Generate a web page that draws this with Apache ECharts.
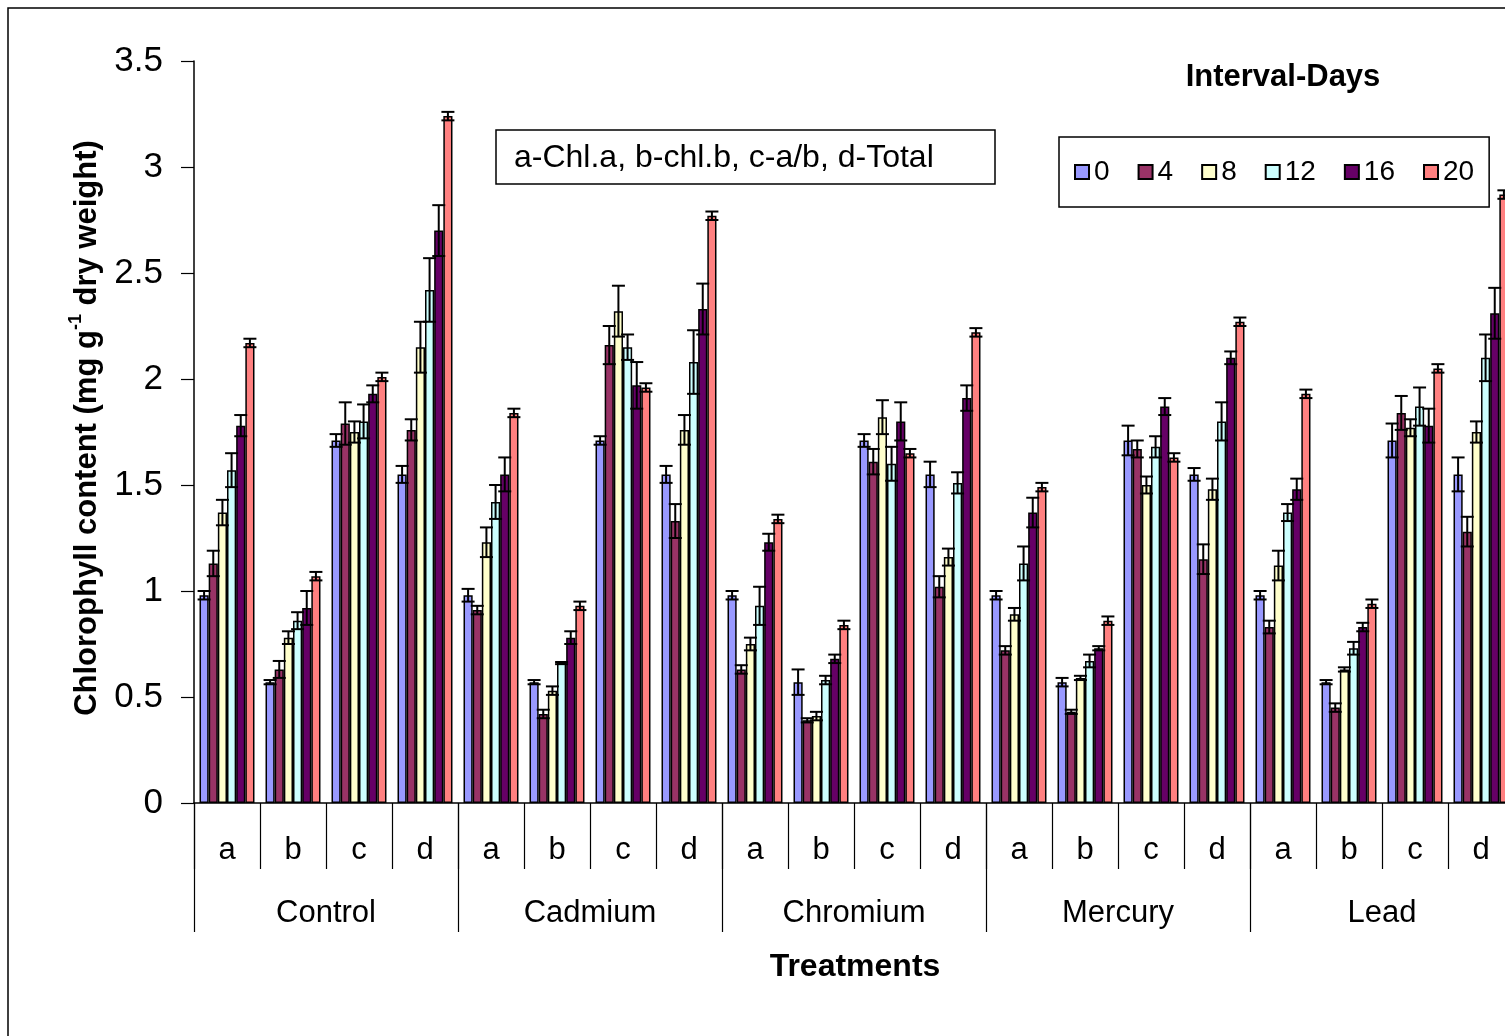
<!DOCTYPE html>
<html>
<head>
<meta charset="utf-8">
<script src="https://cdn.jsdelivr.net/npm/echarts@6/dist/echarts.min.js"></script>
<style>html,body{margin:0;padding:0;background:#fff;}#c{width:1505px;height:1036px;}</style>
</head>
<body>
<div id="c"></div>
<script>
const subCategories = ['a','b','c','d','a','b','c','d','a','b','c','d','a','b','c','d','a','b','c','d'];
const treatments = ['Control','Cadmium','Chromium','Mercury','Lead'];
const seriesNames = ['0','4','8','12','16','20'];
const yTicks = {min: 0, max: 3.5, interval: 0.5};

const day0  = [0.98,0.57,1.71,1.55, 0.98,0.57,1.71,1.55, 0.98,0.57,1.71,1.55, 0.98,0.57,1.71,1.55, 0.98,0.57,1.71,1.55];
const day4  = [1.13,0.63,1.79,1.76, 0.91,0.42,2.16,1.33, 0.63,0.39,1.61,1.02, 0.72,0.43,1.67,1.15, 0.83,0.45,1.84,1.28];
const day8  = [1.37,0.78,1.75,2.15, 1.23,0.53,2.32,1.76, 0.75,0.41,1.82,1.16, 0.89,0.59,1.50,1.48, 1.12,0.63,1.77,1.75];
const day12 = [1.57,0.86,1.80,2.42, 1.42,0.66,2.15,2.08, 0.93,0.58,1.60,1.51, 1.13,0.67,1.68,1.80, 1.37,0.73,1.87,2.10];
const day16 = [1.78,0.92,1.93,2.70, 1.55,0.78,1.97,2.33, 1.23,0.68,1.80,1.91, 1.37,0.73,1.87,2.10, 1.48,0.83,1.78,2.31];
const day20 = [2.17,1.07,2.01,3.24, 1.84,0.93,1.96,2.77, 1.34,0.84,1.65,2.22, 1.49,0.86,1.63,2.27, 1.93,0.94,2.05,2.87];

const err0  = [0.02,0.01,0.03,0.04, 0.03,0.01,0.02,0.04, 0.02,0.06,0.03,0.06, 0.02,0.02,0.07,0.03, 0.02,0.01,0.08,0.08];
const err4  = [0.06,0.04,0.10,0.05, 0.02,0.02,0.09,0.08, 0.02,0.01,0.06,0.05, 0.02,0.01,0.04,0.07, 0.03,0.02,0.08,0.07];
const err8  = [0.06,0.03,0.05,0.12, 0.07,0.02,0.12,0.07, 0.03,0.02,0.08,0.04, 0.03,0.01,0.04,0.05, 0.07,0.01,0.04,0.05];
const err12 = [0.08,0.04,0.08,0.15, 0.08,0.005,0.06,0.15, 0.09,0.02,0.08,0.05, 0.08,0.03,0.05,0.09, 0.04,0.03,0.09,0.11];
const err16 = [0.05,0.08,0.04,0.12, 0.08,0.03,0.11,0.12, 0.04,0.02,0.09,0.06, 0.07,0.01,0.04,0.03, 0.05,0.02,0.08,0.12];
const err20 = [0.02,0.02,0.02,0.02, 0.02,0.02,0.02,0.02, 0.02,0.02,0.02,0.02, 0.02,0.02,0.02,0.02, 0.02,0.02,0.02,0.02];

const values = [day0, day4, day8, day12, day16, day20];
const errors = [err0, err4, err8, err12, err16, err20];
const colors = ['#9999FF','#993366','#FFFFCC','#CCFFFF','#660066','#FF8080'];

const FONT = '"Liberation Sans", Arial, sans-serif';
const GAP = 0.167;
const NS = seriesNames.length;

const series = [];
seriesNames.forEach((n, k) => {
  series.push({
    name: n, type: 'bar', data: values[k],
    barGap: '0%', barCategoryGap: (GAP*100) + '%',
    itemStyle: {color: colors[k], borderColor: '#000', borderWidth: 1.5},
    emphasis: {disabled: true}, z: 2
  });
});
seriesNames.forEach((n, k) => {
  series.push({
    name: 'err' + n, type: 'custom', z: 5, silent: true,
    data: values[k].map((v, i) => [i, v, errors[k][i]]),
    encode: {x: 0, y: 1},
    renderItem: function (params, api) {
      const ci = api.value(0), v = api.value(1), e = api.value(2);
      const p = api.coord([ci, v]);
      const catW = api.size([1, 0])[0];
      const inner = catW * (1 - GAP);
      const bw = inner / NS;
      const x = p[0] - inner / 2 + bw * (k + 0.5);
      const yt = api.coord([ci, v + e])[1];
      const yb = api.coord([ci, v - e])[1];
      const cap = 6.5;
      const st = {stroke: '#000', lineWidth: 2};
      return {type: 'group', children: [
        {type: 'line', shape: {x1: x, y1: yt, x2: x, y2: yb}, style: st},
        {type: 'line', shape: {x1: x - cap, y1: yt, x2: x + cap, y2: yt}, style: st},
        {type: 'line', shape: {x1: x - cap, y1: yb, x2: x + cap, y2: yb}, style: st}
      ]};
    }
  });
});

const chart = echarts.init(document.getElementById('c'), null, {renderer: 'canvas'});
chart.setOption({
  backgroundColor: '#fff',
  animation: false,
  textStyle: {fontFamily: FONT, color: '#000'},
  grid: {left: 194, width: 1320, top: 61, height: 742, containLabel: false, outerBoundsMode: 'none'},
  legend: {
    data: seriesNames, left: 1059, top: 137, orient: 'horizontal',
    icon: 'rect',
    itemWidth: 14, itemHeight: 14, itemGap: 28,
    padding: [21, 15, 21, 15],
    borderColor: '#000', borderWidth: 1.5, backgroundColor: '#fff',
    textStyle: {fontSize: 28, color: '#000', fontFamily: FONT},
    selectedMode: false
  },
  xAxis: [
    {
      type: 'category', data: subCategories, position: 'bottom',
      axisLine: {lineStyle: {color: '#000', width: 1.5}},
      axisTick: {show: true, length: 66, lineStyle: {color: '#000', width: 1.2}},
      axisLabel: {interval: 0, fontSize: 31, color: '#000', margin: 32, fontFamily: FONT},
      splitLine: {show: false}
    },
    {
      type: 'category', data: treatments, position: 'bottom', gridIndex: 0,
      axisLine: {show: false},
      axisTick: {show: true, length: 129, lineStyle: {color: '#000', width: 1.2}},
      axisLabel: {interval: 0, fontSize: 31, color: '#000', margin: 95, fontFamily: FONT},
      splitLine: {show: false}
    }
  ],
  yAxis: {
    type: 'value', min: yTicks.min, max: yTicks.max, interval: yTicks.interval,
    axisLine: {show: true, lineStyle: {color: '#000', width: 1.5}},
    axisTick: {show: true, length: 13, lineStyle: {color: '#000', width: 1.2}},
    axisLabel: {fontSize: 35, color: '#000', margin: 31, fontFamily: FONT},
    splitLine: {show: false}
  },
  graphic: [
    {type: 'rect', shape: {x: 8, y: 8, width: 1520, height: 1050}, style: {fill: 'none', stroke: '#000', lineWidth: 1.5}, z: -10, silent: true},
    {type: 'rect', shape: {x: 496, y: 130, width: 499, height: 54}, style: {fill: '#fff', stroke: '#000', lineWidth: 1.5}, z: 10},
    {type: 'text', x: 514, y: 158, z: 11, style: {text: 'a-Chl.a, b-chl.b, c-a/b, d-Total', font: '32px ' + FONT, fill: '#000', textAlign: 'left', textVerticalAlign: 'middle'}},
    {type: 'text', x: 1283, y: 77, z: 11, style: {text: 'Interval-Days', font: 'bold 31px ' + FONT, fill: '#000', textAlign: 'center', textVerticalAlign: 'middle'}},
    {type: 'text', x: 855, y: 967, z: 11, style: {text: 'Treatments', font: 'bold 32px ' + FONT, fill: '#000', textAlign: 'center', textVerticalAlign: 'middle'}},
    {type: 'text', x: 85, y: 428, rotation: Math.PI / 2, z: 11, style: {
      text: '{m|Chlorophyll content (mg g}{s|-1}{m| dry weight)}',
      textAlign: 'center', textVerticalAlign: 'middle', fill: '#000',
      rich: {
        m: {fontSize: 31, fontWeight: 'bold', fontFamily: FONT, fill: '#000', lineHeight: 36, verticalAlign: 'bottom'},
        s: {fontSize: 18, fontWeight: 'bold', fontFamily: FONT, fill: '#000', lineHeight: 36, verticalAlign: 'top'}
      }
    }}
  ],
  series: series
});
</script>
</body>
</html>
